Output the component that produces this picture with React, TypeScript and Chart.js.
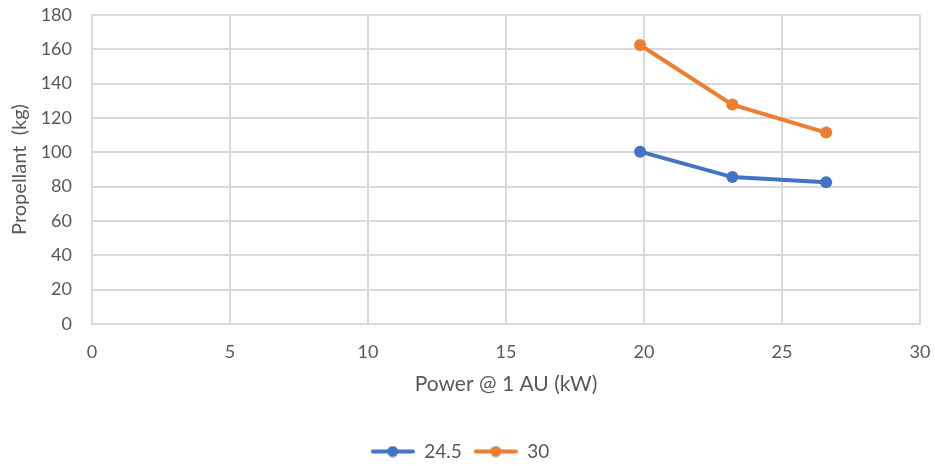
import React, { useEffect, useRef } from "react";
import { Chart, registerables } from "chart.js";

Chart.register(...registerables);

const seriesNames = ["24.5", "30"];
const powerKW = [19.86, 23.2, 26.6];
const propellant245 = [100.4, 85.6, 82.6];
const propellant30 = [162.5, 127.8, 111.5];
const colors = ["#4472C4", "#ED7D31"];
const yTicks = [0, 20, 40, 60, 80, 100, 120, 140, 160, 180];
const xTicks = [0, 5, 10, 15, 20, 25, 30];

const FONT = "Lato, 'Open Sans', sans-serif";
const TEXT = "#595959";

function legendIcon(color: string): HTMLCanvasElement {
  const c = document.createElement("canvas");
  c.width = 44;
  c.height = 12;
  const ctx = c.getContext("2d")!;
  ctx.strokeStyle = color;
  ctx.lineWidth = 4;
  ctx.lineCap = "round";
  ctx.beginPath();
  ctx.moveTo(2, 6);
  ctx.lineTo(42, 6);
  ctx.stroke();
  ctx.fillStyle = color;
  ctx.beginPath();
  ctx.arc(22, 6, 5.5, 0, Math.PI * 2);
  ctx.fill();
  return c;
}

export default function App() {
  const ref = useRef<HTMLCanvasElement | null>(null);
  useEffect(() => {
    if (!ref.current) return;
    const seriesValues = [propellant245, propellant30];
    const chart = new Chart(ref.current, {
      type: "scatter",
      data: {
        datasets: seriesNames.map((name, i) => ({
          label: name,
          data: powerKW.map((x, j) => ({ x, y: seriesValues[i][j] })),
          showLine: true,
          borderColor: colors[i],
          backgroundColor: colors[i],
          borderWidth: 4,
          pointRadius: 6,
          pointHoverRadius: 6,
          pointBorderWidth: 0,
          tension: 0,
        })),
      },
      options: {
        animation: false,
        responsive: false,
        maintainAspectRatio: false,
        layout: { padding: { left: 0, right: 15, top: 15, bottom: -5 } },
        plugins: {
          tooltip: { enabled: false },
          legend: {
            position: "bottom",
            labels: {
              color: TEXT,
              font: { family: FONT, size: 19 },
              usePointStyle: true,
              pointStyleWidth: 44,
              boxHeight: 12,
              padding: 12,
              generateLabels: (ch: any) =>
                ch.data.datasets.map((ds: any, i: number) => ({
                  text: ds.label,
                  fillStyle: colors[i],
                  strokeStyle: colors[i],
                  lineWidth: 0,
                  pointStyle: legendIcon(colors[i]),
                  datasetIndex: i,
                  hidden: false,
                  fontColor: TEXT,
                })),
            },
          },
        },
        scales: {
          x: {
            type: "linear",
            min: 0,
            max: 30,
            afterBuildTicks: (s: any) => {
              s.ticks = xTicks.map((v) => ({ value: v }));
            },
            afterFit: (s: any) => {
              s.height = 106;
              s.paddingLeft = 0;
              s.paddingRight = 0;
            },
            grid: { color: "#d9d9d9", lineWidth: 2, drawTicks: false },
            border: { color: "#d9d9d9", width: 2 },
            ticks: { color: TEXT, font: { family: FONT, size: 18 }, padding: 17 },
            title: {
              display: true,
              text: "Power @ 1 AU (kW)",
              color: TEXT,
              font: { family: FONT, size: 21 },
              padding: { top: 8, bottom: 33 },
            },
          },
          y: {
            type: "linear",
            min: 0,
            max: 180,
            afterBuildTicks: (s: any) => {
              s.ticks = yTicks.map((v) => ({ value: v }));
            },
            afterFit: (s: any) => {
              s.width = 92;
              s.paddingTop = 0;
              s.paddingBottom = 0;
            },
            grid: { color: "#d9d9d9", lineWidth: 2, drawTicks: false },
            border: { color: "#d9d9d9", width: 2 },
            ticks: { color: TEXT, font: { family: FONT, size: 18 }, padding: 20 },
            title: {
              display: true,
              text: "Propellant  (kg)",
              color: TEXT,
              font: { family: FONT, size: 20 },
              padding: { top: 8, bottom: 0 },
            },
          },
        },
      },
    });
    return () => chart.destroy();
  }, []);
  return (
    <div style={{ position: "fixed", left: 0, top: 0, width: 935, height: 466, background: "#fff" }}>
      <canvas ref={ref} width={935} height={466} style={{ display: "block" }} />
    </div>
  );
}
